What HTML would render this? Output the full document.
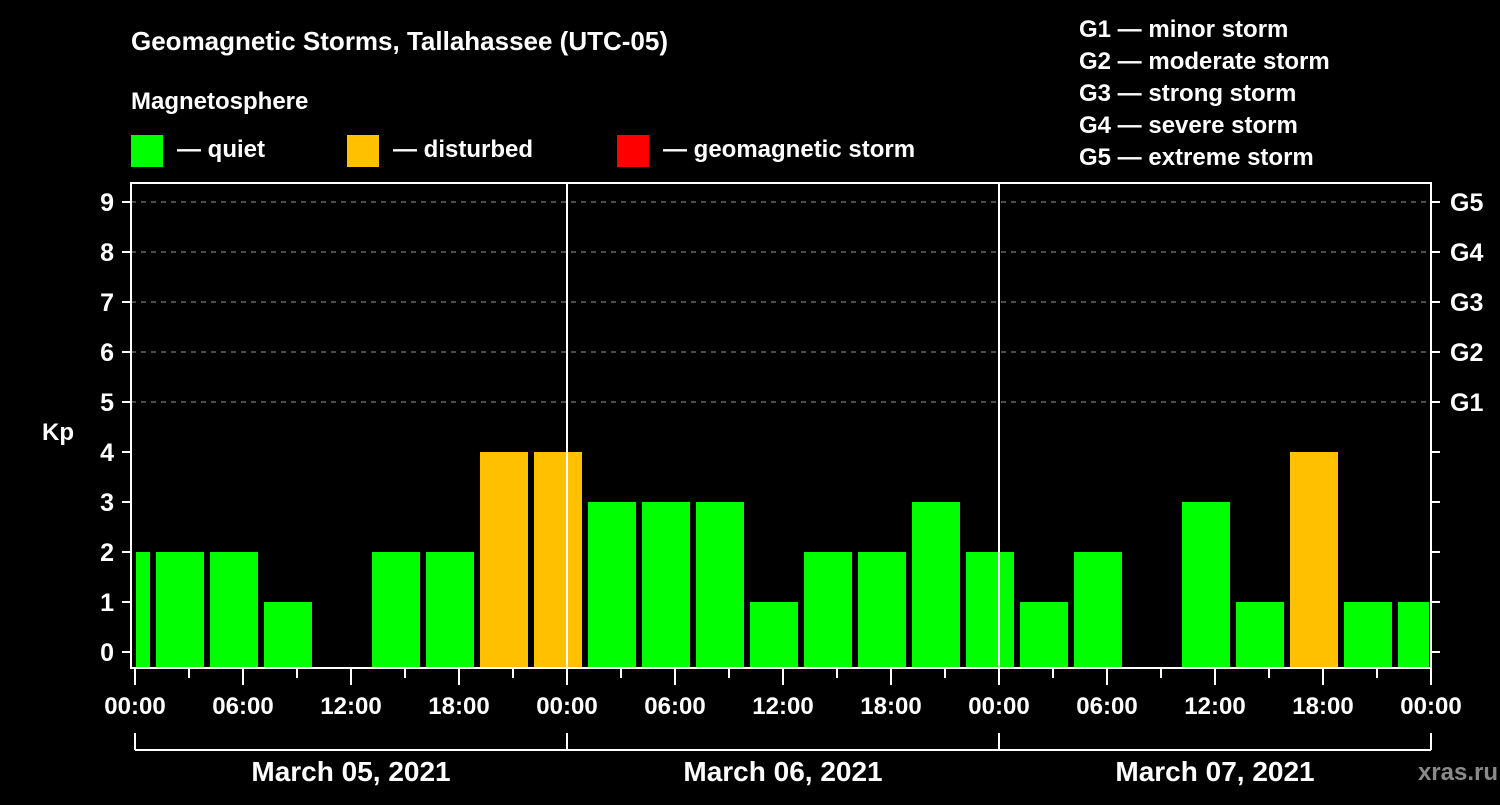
<!DOCTYPE html>
<html><head><meta charset="utf-8"><style>
body{margin:0;background:#000;width:1500px;height:800px;overflow:hidden}
svg text{font-family:"Liberation Sans",sans-serif;font-weight:bold;fill:#fff}
</style></head><body>
<svg id="c" width="1500" height="800" xmlns="http://www.w3.org/2000/svg">
<text x="131" y="50" font-size="26">Geomagnetic Storms, Tallahassee (UTC-05)</text>
<text x="131" y="109" font-size="24">Magnetosphere</text>
<rect x="131" y="135" width="32" height="32" fill="#00ff00"/>
<text x="177" y="157" font-size="24">— quiet</text>
<rect x="347" y="135" width="32" height="32" fill="#ffc000"/>
<text x="393" y="157" font-size="24">— disturbed</text>
<rect x="617" y="135" width="32" height="32" fill="#ff0000"/>
<text x="663" y="157" font-size="24">— geomagnetic storm</text>
<g font-size="24">
<text x="1079" y="37">G1 — minor storm</text>
<text x="1079" y="69">G2 — moderate storm</text>
<text x="1079" y="101">G3 — strong storm</text>
<text x="1079" y="133">G4 — severe storm</text>
<text x="1079" y="165">G5 — extreme storm</text>
</g>
<text x="42" y="440" font-size="24">Kp</text>
<text x="1498" y="780" font-size="24" text-anchor="end" fill="#888" style="fill:#8a8a8a">xras.ru</text>
<g id="plot"></g>
</svg>
<script>
const kpValues=[2,2,2,1,0,2,2,4,4,3,3,3,1,2,2,3,2,1,2,0,3,1,4,1,1];
const startHours=[-2,1,4,7,10,13,16,19,22,25,28,31,34,37,40,43,46,49,52,55,58,61,64,67,70];
const dayLabels=["March 05, 2021","March 06, 2021","March 07, 2021"];
const gLabels=["G1","G2","G3","G4","G5"];
const yTicks=[0,1,2,3,4,5,6,7,8,9];
const xTickLabels=["00:00","06:00","12:00","18:00"];
const NS="http://www.w3.org/2000/svg";
const X0=135,X1=1431,PT=183,PB=668;
const x=h=>X0+h*18;
const y=v=>652-v*50;
const g=document.getElementById('plot');
function mk(t,a){const e=document.createElementNS(NS,t);for(const k in a)e.setAttribute(k,a[k]);g.appendChild(e);return e;}
// grid
[5,6,7,8,9].forEach(v=>{const l=mk('line',{x1:X0-4,x2:X1,y1:y(v),y2:y(v),stroke:'#999','stroke-width':1,'stroke-dasharray':'5,5'});

});
// bars
kpValues.forEach((v,i)=>{if(v<=0)return;
let a=Math.max(x(startHours[i])+3,X0+1),b=Math.min(x(startHours[i]+3)-3,X1-2);
const r=mk('rect',{x:a,y:y(v),width:b-a,height:PB-1-y(v),fill:v>=5?'#ff0000':v>=4?'#ffc000':'#00ff00'});

});
// day lines
[1,2].forEach(d=>{const l=mk('line',{x1:x(24*d),x2:x(24*d),y1:PT,y2:PB,stroke:'#fff','stroke-width':2});

});
// frame
const fr=mk('rect',{x:131,y:PT,width:X1-131,height:PB-PT,fill:'none',stroke:'#fff','stroke-width':2});


// y ticks
yTicks.forEach(v=>{mk('line',{x1:122,x2:131,y1:y(v),y2:y(v),stroke:'#fff','stroke-width':2});
mk('line',{x1:X1,x2:X1+9,y1:y(v),y2:y(v),stroke:'#fff','stroke-width':2});
const t=mk('text',{x:114,y:y(v)+9,'font-size':25,'text-anchor':'end'});t.textContent=v;

});
gLabels.forEach((s,i)=>{const t=mk('text',{x:1450,y:y(5+i)+9,'font-size':25});t.textContent=s;

});
// x ticks
for(let h=0;h<=72;h+=3){const maj=h%6==0;mk('line',{x1:x(h),x2:x(h),y1:669,y2:maj?685:678,stroke:'#fff','stroke-width':2});
if(maj){const t=mk('text',{x:x(h),y:714,'font-size':24,'text-anchor':'middle'});t.textContent=xTickLabels[(h%24)/6];

}}
// day bracket
mk('line',{x1:x(0),x2:x(72),y1:750,y2:750,stroke:'#fff','stroke-width':2});
[0,24,48,72].forEach(h=>mk('line',{x1:x(h),x2:x(h),y1:733,y2:750,stroke:'#fff','stroke-width':2}));
dayLabels.forEach((s,i)=>{const t=mk('text',{x:x(24*i+12),y:781,'font-size':28,'text-anchor':'middle'});t.textContent=s;

});
</script>
</body></html>
